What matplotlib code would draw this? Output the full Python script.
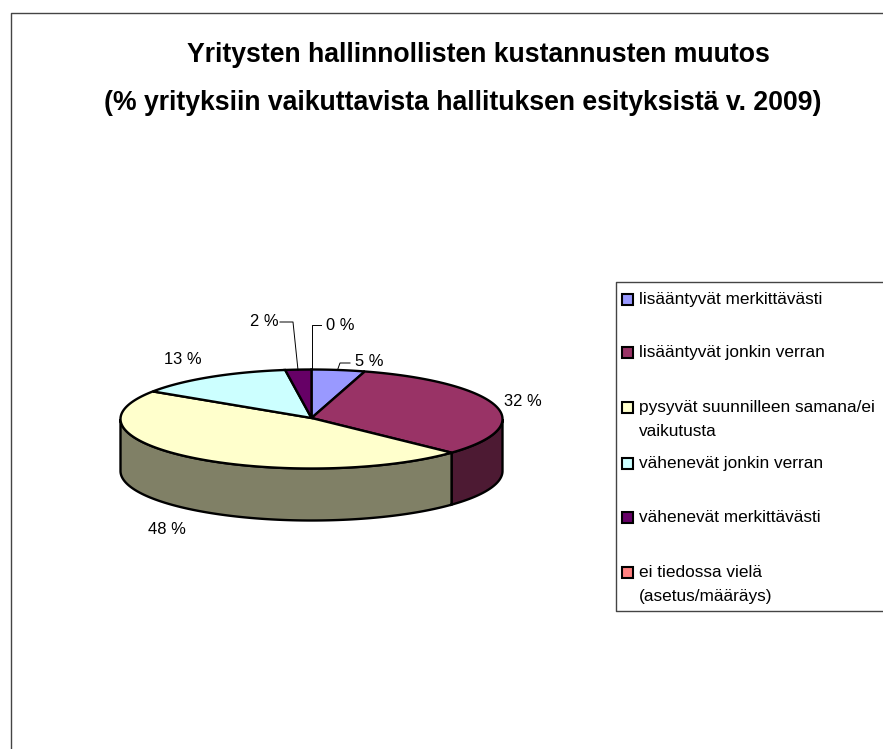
import numpy as np
import matplotlib
matplotlib.use('Agg')
import matplotlib.pyplot as plt
from matplotlib.patches import Polygon, Rectangle

plt.rcParams['font.family'] = ['Liberation Sans', 'DejaVu Sans']

title_lines = ['Yritysten hallinnollisten kustannusten muutos',
               '(% yrityksiin vaikuttavista hallituksen esityksistä v. 2009)']
categories = ['lisääntyvät merkittävästi', 'lisääntyvät jonkin verran',
              'pysyvät suunnilleen samana/ei\nvaikutusta', 'vähenevät jonkin verran',
              'vähenevät merkittävästi', 'ei tiedossa vielä\n(asetus/määräys)']
# shares, labels as printed in the chart
values = [4.5, 32.4, 47.5, 13.4, 2.2, 0.0]
value_labels = ['5 %', '32 %', '48 %', '13 %', '2 %', '0 %']
colors = ['#9999FF', '#993366', '#FFFFCC', '#CCFFFF', '#660066', '#FF8080']
side_colors = ['#4D4D80', '#4D1A33', '#808066', '#668080', '#330033', '#804040']

# pie geometry in pixels
cx, cy = 311.5, 419
rx, ry = 191, 49.5
depth = 52


def rim(start, end):
    t = np.radians(np.linspace(start, end, max(int(abs(end - start)) * 2, 2)))
    return cx + rx * np.sin(t), cy - ry * np.cos(t)


fig = plt.figure(figsize=(8.83, 7.49), dpi=100)
ax = fig.add_axes([0, 0, 1, 1])
ax.set_xlim(0, 883)
ax.set_ylim(749, 0)
ax.axis('off')

# outer frame, bottom and right run off the image
ax.plot([10.5, 10.5, 883], [749, 12.5, 12.5], color='#444444', lw=1.0)

ax.text(478.5, 55, title_lines[0], ha='center', va='center', fontsize=19.2, fontweight='bold')
ax.text(462.5, 103, title_lines[1], ha='center', va='center', fontsize=19.2, fontweight='bold')

edges = np.cumsum([0] + values) * 3.6

# side of the pie, only the front half shows
for i in range(len(values)):
    a = max(edges[i], 90)
    b = min(edges[i + 1], 270)
    if b <= a:
        continue
    x, y = rim(a, b)
    pts = np.r_[np.c_[x, y], np.c_[x[::-1], y[::-1] + depth]]
    ax.add_patch(Polygon(pts, closed=True, fc=side_colors[i], ec='black', lw=1.7))

# top of the pie
for i in range(len(values)):
    if values[i] == 0:
        continue
    x, y = rim(edges[i], edges[i + 1])
    pts = np.r_[[[cx, cy - 1]], np.c_[x, y]]
    ax.add_patch(Polygon(pts, closed=True, fc=colors[i], ec='black', lw=1.7))

# leader lines
ax.plot([350, 340, 337.5], [363, 363, 370], color='black', lw=0.7)
ax.plot([280, 293, 298], [322, 322, 370], color='black', lw=0.7)
ax.plot([321, 311.5, 311.5], [325, 325, 370], color='black', lw=0.7)

# value labels
label_pos = [(355, 362, 'left'), (504, 401, 'left'), (167, 529, 'center'),
             (183, 359, 'center'), (279, 322, 'right'), (326, 325, 'left')]
for txt, (lx, ly, ha) in zip(value_labels, label_pos):
    ax.text(lx, ly, txt, ha=ha, va='center', fontsize=11.9)

# legend box
ax.plot([883, 615.5, 615.5, 883], [282, 282, 610.5, 610.5], color='#444444', lw=1.0)
row_y = [299, 352, 407, 463, 517, 572]
for lab, col, y in zip(categories, colors, row_y):
    ax.add_patch(Rectangle((622, y - 5), 10.5, 10.5, fc=col, ec='black', lw=1.5))
    ax.text(639, y - 7, lab, ha='left', va='top', fontsize=12.4, linespacing=1.72)

fig.savefig('out.png', dpi=100)
